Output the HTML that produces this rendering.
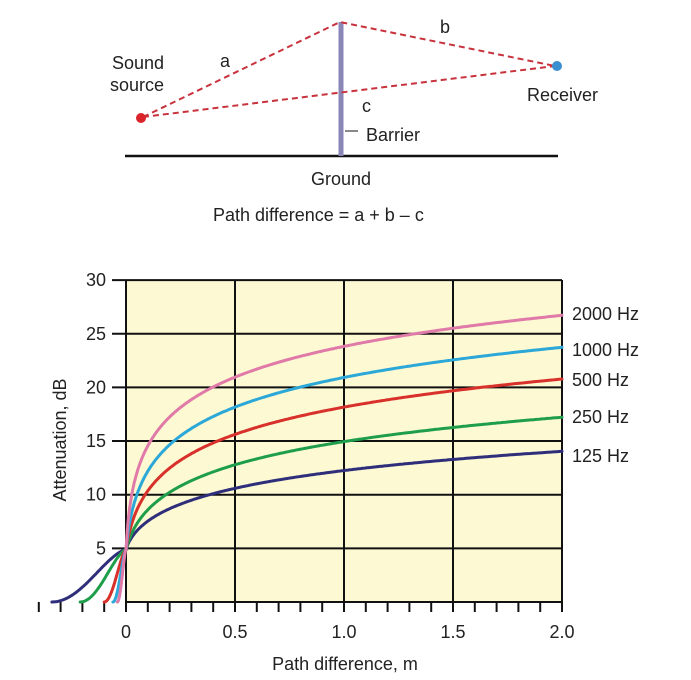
<!DOCTYPE html>
<html><head><meta charset="utf-8"><style>
html,body{margin:0;padding:0;background:#fff;}
svg{display:block;font-family:"Liberation Sans",sans-serif;}
</style></head><body>
<svg id="s" width="691" height="680" viewBox="0 0 691 680" xmlns="http://www.w3.org/2000/svg">
<line x1="125" y1="156" x2="558" y2="156" stroke="#111" stroke-width="2.5"/>
<line x1="341" y1="22" x2="341" y2="156" stroke="#8a86b8" stroke-width="5"/>
<g stroke="#c8323c" stroke-width="2" stroke-dasharray="6,4" fill="none">
<polyline points="143,117 340,22 555,66"/>
<line x1="143" y1="117" x2="555" y2="66"/>
</g>
<circle cx="141" cy="118" r="5" fill="#d9252a"/>
<circle cx="557" cy="66" r="5" fill="#3b8fd0"/>
<line x1="345" y1="131" x2="358" y2="131" stroke="#111" stroke-width="1"/>
<g font-size="18" fill="#222">
<text x="112" y="69">Sound</text><text x="110" y="91">source</text>
<text x="220" y="67">a</text><text x="440" y="33">b</text><text x="362" y="112">c</text>
<text x="366" y="141">Barrier</text><text x="527" y="101">Receiver</text>
<text x="311" y="185">Ground</text>
<text x="213" y="221">Path difference =  a + b – c</text>
</g>
<rect x="126" y="280" width="436" height="322" fill="#fdf9d3"/>
<g id="grid" stroke="#111" stroke-width="2"></g>
<g id="curves" fill="none" stroke-width="3" stroke-linecap="round"></g>
<g font-size="18" fill="#222" id="lbl">
<text x="572" y="320">2000 Hz</text><text x="572" y="356">1000 Hz</text>
<text x="572" y="386">500 Hz</text><text x="572" y="423">250 Hz</text>
<text x="572" y="462">125 Hz</text>
<text x="345" y="670" text-anchor="middle">Path difference, m</text>
<text transform="translate(66,440) rotate(-90)" text-anchor="middle">Attenuation, dB</text>
</g>
</svg>
<script>
const NS="http://www.w3.org/2000/svg";
const X=v=>126+v*218, Y=v=>602-v*10.73;
const g=document.getElementById('grid'), lb=document.getElementById('lbl'), cv=document.getElementById('curves');
function el(p,tag,a,t){const e=document.createElementNS(NS,tag);for(const k in a)e.setAttribute(k,a[k]);if(t!==undefined)e.textContent=t;p.appendChild(e);return e;}
for(let i=0;i<=6;i++){const y=Y(i*5);el(g,'line',{x1:i==0?126:112,y1:y,x2:562,y2:y});
 if(i>0)el(lb,'text',{x:106,y:y+6,'text-anchor':'end'},String(i*5));}
for(let i=0;i<=4;i++){const x=X(i*0.5);el(g,'line',{x1:x,y1:280,x2:x,y2:612});
 el(lb,'text',{x:x,y:638,'text-anchor':'middle'},i==0?'0':(i*0.5).toFixed(1));}
for(let i=-4;i<=20;i++){const x=X(i/10);el(g,'line',{x1:x,y1:602,x2:x,y2:612});}
const cs=[[125,'#2e2e7a',0.34,0.9,0.75],[250,'#1e9e4a',0.21,0.95,0.85],[500,'#d8302a',0.1,1,0.9],[1000,'#2ba8d8',0.06,1,0.95],[2000,'#e07aa8',0.04,1,0.97]];
cs.forEach(([f,c,x0,sc,pw])=>{let d='';
 for(let i=0;i<=40;i++){const x=-x0+x0*i/40;const t=i/40;const a=4.9*t*t*(3-2*t)*(0.6+0.4*t);d+=(d?'L':'M')+X(x).toFixed(1)+','+Y(a).toFixed(1);}
 for(let i=1;i<=300;i++){const x=Math.pow(i/300,2)*2;const xe=2*Math.pow(x/2,pw);const N=2*xe*f/343;let a=10*Math.log10(3+20*N);a=4.77+(a-4.77)*sc;d+='L'+X(x).toFixed(1)+','+Y(a).toFixed(1);}
 el(cv,'path',{d:d,stroke:c});});
</script>
</body></html>
